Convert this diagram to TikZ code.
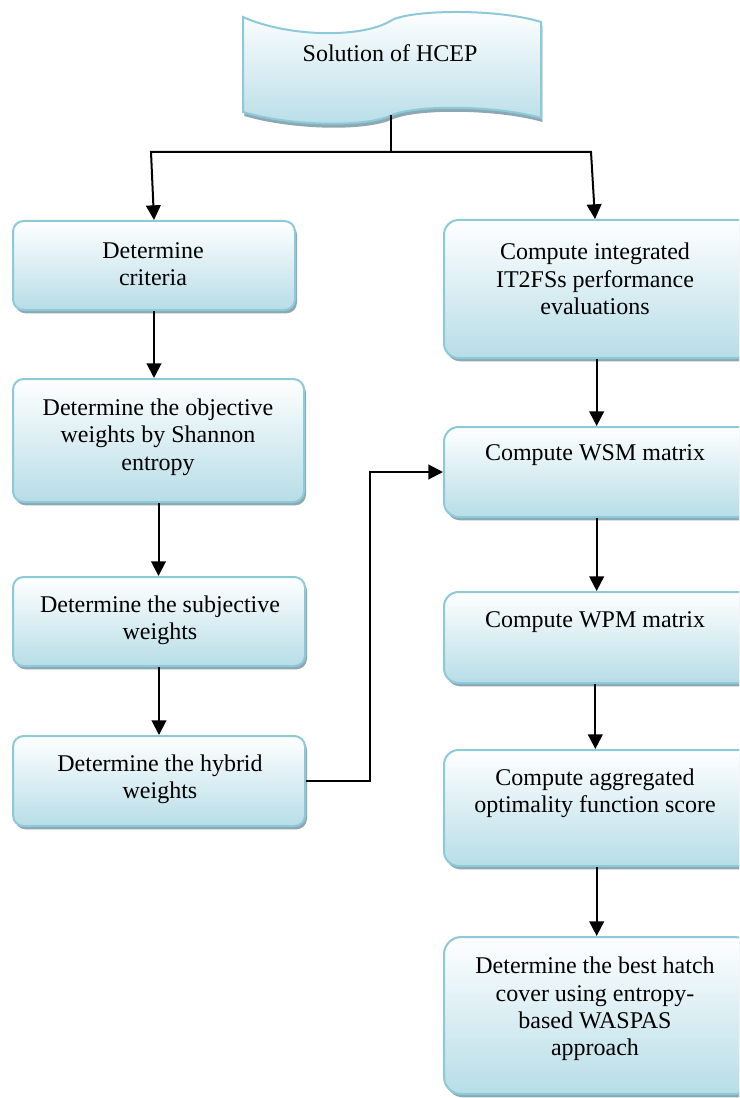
\documentclass[tikz,border=0pt]{standalone}
\usepackage{fontspec}
\setmainfont{Liberation Serif}
\usetikzlibrary{shadows,arrows.meta,calc}
\definecolor{boxblue}{RGB}{183,221,231}
\definecolor{boxline}{RGB}{140,202,218}
\definecolor{shadowc}{RGB}{140,168,178}
\tikzset{
 box/.style={draw=boxline, line width=1.5pt, rounded corners=8pt, top color=white, bottom color=boxblue,
   drop shadow={shadow xshift=1.5pt, shadow yshift=-2.5pt, fill=shadowc, opacity=1}, inner sep=0pt},
 rbox/.style={box, rounded corners=11pt, minimum width=231pt},
 txt/.style={align=center, font=\fontsize{18}{20.6}\selectfont, inner sep=0pt},
 arr/.style={line width=1.5pt, -{Triangle[length=11pt,width=11pt]}},
 ln/.style={line width=1.5pt},
}
\begin{document}
\begin{tikzpicture}[x=0.75pt,y=-0.75pt]
\path[use as bounding box] (0,0) rectangle (739,1098);
\clip (0,0) rectangle (739,1098);
\fill[white] (0,0) rectangle (739,1098);
% banner
\path[draw=boxline, line width=1.5pt, top color=white, bottom color=boxblue,
  drop shadow={shadow xshift=1pt, shadow yshift=-3pt, fill=shadowc, opacity=1}]
  (243,17) .. controls (290,38) and (365,38) .. (392,20)
  .. controls (415,9) and (500,9) .. (541,22) -- (541,118)
  .. controls (500,106) and (420,104) .. (392,115)
  .. controls (365,128) and (290,126) .. (243,112) -- cycle;
\node[txt] (ban) at (390,53) {Solution of HCEP};
\coordinate (bb) at (391,115);
% left column
\node[box, minimum width=211.5pt, minimum height=66.75pt] (L1) at (154,265.5) {};
\node[txt] (tL1) at (153,264) {Determine\\criteria};
\node[box, minimum width=218.25pt, minimum height=92.25pt] (L2) at (158.5,440.5) {};
\node[txt] (tL2) at (158,437) {Determine the objective\\weights by Shannon\\entropy};
\node[box, minimum width=219pt, minimum height=66.75pt] (L3) at (159,621.5) {};
\node[txt] (tL3) at (160,620) {Determine the subjective\\weights};
\node[box, minimum width=219pt, minimum height=67.5pt] (L4) at (159,781) {};
\node[txt] (tL4) at (160,779) {Determine the hybrid\\weights};
% right column
\node[rbox, minimum height=103.5pt] (R1) at (598,289) {};
\node[txt] (tR1) at (595,279) {Compute integrated\\IT2FSs performance\\evaluations};
\node[rbox, minimum height=67.5pt] (R2) at (598,472) {};
\node[txt] (tR2) at (595,455) {Compute WSM matrix};
\node[rbox, minimum height=68.25pt] (R3) at (598,637.5) {};
\node[txt] (tR3) at (595,622) {Compute WPM matrix};
\node[rbox, minimum height=87pt] (R4) at (598,808) {};
\node[txt] (tR4) at (595,793) {Compute aggregated\\optimality function score};
\node[rbox, rounded corners=13pt, minimum height=117.75pt] (R5) at (598,1015.5) {};
\node[txt] (tR5) at (595,1009) {Determine the best hatch\\cover using entropy-\\based WASPAS\\approach};
% connectors
\coordinate (j) at (391,152);
\coordinate (jl) at (151,152);
\coordinate (jr) at (591,152);
\draw[ln] (bb) -- (j);
\draw[arr] (j) -- (jl) -- (L1.north);
\draw[arr] (j) -- (jr) -- ([xshift=-2.25pt]R1.north);
\draw[arr] (L1.south) -- (L1.south |- L2.north);
\draw[arr] (L2.south) -- (L2.south |- L3.north);
\draw[arr] (L3.south) -- (L3.south |- L4.north);
\draw[arr] (L4.east) -- ++(64,0) |- (R2.west);
\draw[arr] ([xshift=-1pt]R1.south) -- ([xshift=-1pt]R2.north);
\draw[arr] ([xshift=-1pt]R2.south) -- ([xshift=-1pt]R3.north);
\draw[arr] ([xshift=-2pt]R3.south) -- ([xshift=-2pt]R4.north);
\draw[arr] ([xshift=-1pt]R4.south) -- ([xshift=-1pt]R5.north);
\end{tikzpicture}
\end{document}
